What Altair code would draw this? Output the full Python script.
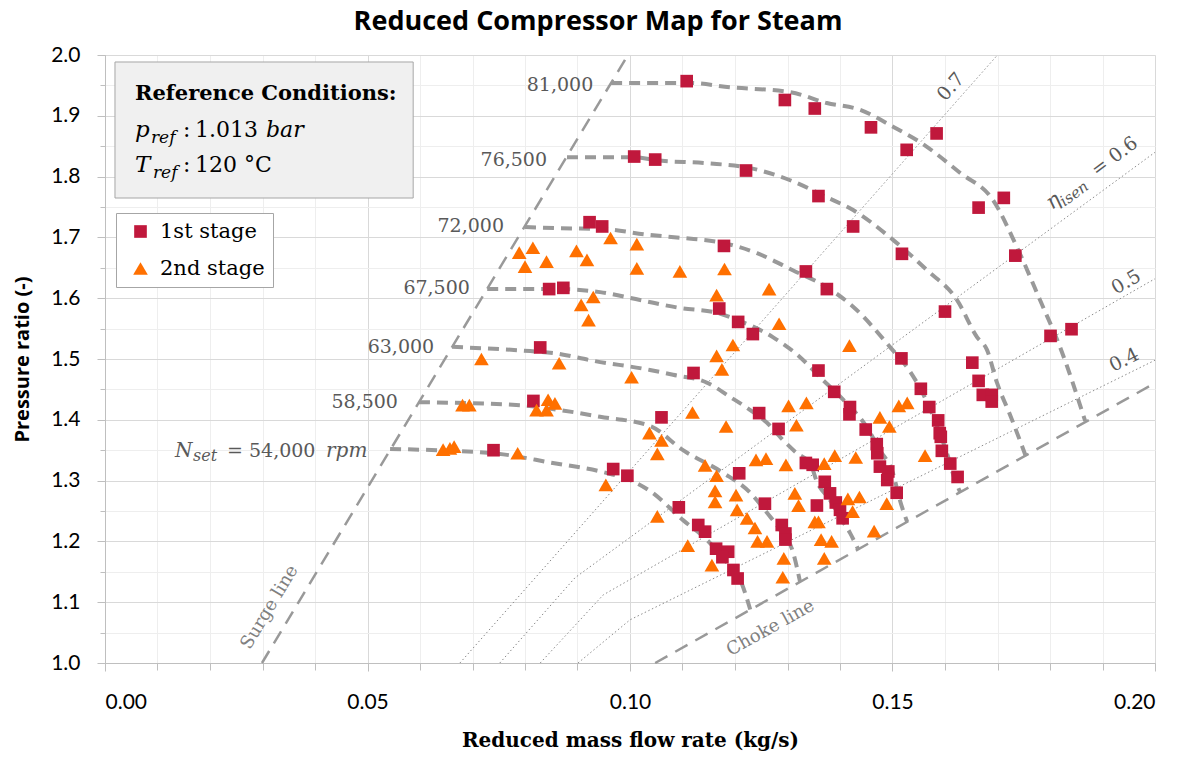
import altair as alt
import pandas as pd

# ---------------- data ----------------
# 1st stage (squares)
s1_x = [0.1108, 0.1295, 0.1352, 0.1459, 0.1527, 0.1584,
        0.1008, 0.1048, 0.1221, 0.1359, 0.1425, 0.1518, 0.1664, 0.1712, 0.1734, 0.1600, 0.1801, 0.1841,
        0.0923, 0.0947, 0.1179, 0.1335, 0.1375, 0.1517, 0.1652, 0.1664, 0.1672, 0.1689, 0.1689,
        0.1554, 0.1570, 0.1587, 0.1590, 0.1592, 0.1594, 0.1610, 0.1624,
        0.0846, 0.0873, 0.1170, 0.1206, 0.1234, 0.1359, 0.1389, 0.1419, 0.1418, 0.1449, 0.1470, 0.1471,
        0.1476, 0.1492, 0.1490, 0.1508,
        0.0829, 0.1121, 0.1246, 0.1283, 0.1335, 0.1348, 0.1371, 0.1381, 0.1392, 0.1400, 0.1405, 0.1356,
        0.0816, 0.1060, 0.1208, 0.1257, 0.1289, 0.1296, 0.1296,
        0.0740, 0.0968, 0.0995, 0.1093, 0.1130, 0.1143, 0.1164, 0.1187, 0.1176, 0.1197, 0.1205]
s1_y = [1.957, 1.926, 1.912, 1.881, 1.844, 1.871,
        1.833, 1.828, 1.810, 1.768, 1.718, 1.673, 1.749, 1.765, 1.670, 1.578, 1.538, 1.549,
        1.725, 1.718, 1.686, 1.644, 1.615, 1.501, 1.494, 1.464, 1.441, 1.441, 1.430,
        1.451, 1.421, 1.399, 1.378, 1.372, 1.349, 1.328, 1.306,
        1.615, 1.617, 1.583, 1.561, 1.541, 1.481, 1.446, 1.421, 1.409, 1.384, 1.360, 1.345,
        1.323, 1.315, 1.301, 1.280,
        1.519, 1.477, 1.411, 1.385, 1.329, 1.326, 1.298, 1.279, 1.264, 1.252, 1.238, 1.259,
        1.431, 1.404, 1.312, 1.262, 1.227, 1.213, 1.203,
        1.350, 1.319, 1.308, 1.256, 1.227, 1.216, 1.188, 1.183, 1.174, 1.153, 1.139]

# 2nd stage (triangles)
s2_x = [0.0789, 0.0815, 0.0800, 0.0841, 0.0898, 0.0918, 0.0963, 0.1013, 0.1013, 0.0907, 0.0930, 0.0921,
        0.1095, 0.1180, 0.1165, 0.1265,
        0.1284, 0.1196, 0.1165, 0.1175, 0.1119, 0.1183, 0.1302, 0.1336, 0.1317,
        0.1037, 0.1060, 0.1052, 0.1240, 0.1259, 0.1297, 0.1143, 0.1165, 0.1162, 0.1162, 0.1202, 0.1204,
        0.1314, 0.1321, 0.1223, 0.1238, 0.1243, 0.1261, 0.1052, 0.1110, 0.1156, 0.1293, 0.1291,
        0.1418, 0.1512, 0.1528, 0.1476, 0.1494, 0.1390, 0.1430, 0.1370, 0.1562, 0.1415, 0.1437, 0.1424,
        0.1489, 0.1352, 0.1359, 0.1465, 0.1364, 0.1384, 0.1370,
        0.0717, 0.0865, 0.1003, 0.0681, 0.0694, 0.0822, 0.0844, 0.0857, 0.0841, 0.0644, 0.0657, 0.0665,
        0.0786, 0.0954]
s2_y = [1.675, 1.683, 1.652, 1.660, 1.678, 1.663, 1.699, 1.689, 1.649, 1.589, 1.602, 1.564,
        1.644, 1.648, 1.605, 1.615,
        1.558, 1.523, 1.505, 1.483, 1.412, 1.389, 1.423, 1.428, 1.391,
        1.378, 1.366, 1.344, 1.334, 1.336, 1.326, 1.325, 1.308, 1.283, 1.265, 1.276, 1.252,
        1.279, 1.259, 1.238, 1.222, 1.200, 1.200, 1.241, 1.193, 1.161, 1.172, 1.141,
        1.522, 1.423, 1.428, 1.404, 1.389, 1.341, 1.338, 1.328, 1.341, 1.270, 1.273, 1.249,
        1.262, 1.232, 1.232, 1.217, 1.203, 1.200, 1.172,
        1.500, 1.493, 1.470, 1.424, 1.424, 1.416, 1.433, 1.427, 1.416, 1.351, 1.353, 1.356,
        1.345, 1.293]

# constant-speed lines
n54_x = [0.0543, 0.0739, 0.0853, 0.0949, 0.1000, 0.1038, 0.1101, 0.1147, 0.1181, 0.1210, 0.1229]
n54_y = [1.352, 1.345, 1.329, 1.314, 1.301, 1.283, 1.235, 1.202, 1.169, 1.137, 1.088]
n585_x = [0.0598, 0.0790, 0.0867, 0.0943, 0.1038, 0.1101, 0.1177, 0.1229, 0.1261, 0.1286, 0.1311, 0.1324]
n585_y = [1.429, 1.424, 1.416, 1.405, 1.390, 1.350, 1.313, 1.280, 1.247, 1.219, 1.181, 1.133]
n63_x = [0.0661, 0.0810, 0.0853, 0.0930, 0.1038, 0.1082, 0.1147, 0.1190, 0.1229, 0.1261, 0.1291,
         0.1318, 0.1343, 0.1356, 0.1381, 0.1400, 0.1419, 0.1434]
n63_y = [1.520, 1.513, 1.510, 1.497, 1.482, 1.474, 1.461, 1.438, 1.416, 1.395, 1.367,
         1.345, 1.329, 1.298, 1.268, 1.240, 1.214, 1.188]
n675_x = [0.0728, 0.0790, 0.0867, 0.0943, 0.1019, 0.1095, 0.1166, 0.1196, 0.1272, 0.1324, 0.1362,
          0.1406, 0.1451, 0.1476, 0.1501, 0.1514, 0.1528]
n675_y = [1.615, 1.615, 1.615, 1.610, 1.597, 1.584, 1.576, 1.567, 1.536, 1.503, 1.470,
          1.433, 1.388, 1.350, 1.312, 1.268, 1.232]
n72_x = [0.0800, 0.0867, 0.0943, 0.1038, 0.1101, 0.1177, 0.1242, 0.1310, 0.1375, 0.1425, 0.1495,
         0.1533, 0.1562, 0.1590, 0.1606, 0.1619, 0.1629]
n72_y = [1.717, 1.715, 1.714, 1.704, 1.699, 1.691, 1.674, 1.646, 1.618, 1.586, 1.520,
         1.480, 1.436, 1.378, 1.339, 1.301, 1.281]
n765_x = [0.0880, 0.1008, 0.1048, 0.1147, 0.1229, 0.1305, 0.1375, 0.1425, 0.1501, 0.1566, 0.1623,
          0.1661, 0.1680, 0.1699, 0.1724, 0.1754]
n765_y = [1.832, 1.832, 1.827, 1.822, 1.814, 1.794, 1.766, 1.745, 1.696, 1.646, 1.597,
          1.536, 1.515, 1.461, 1.408, 1.340]
n81_x = [0.0964, 0.1114, 0.1190, 0.1305, 0.1375, 0.1438, 0.1501, 0.1552, 0.1629, 0.1691, 0.1737,
         0.1781, 0.1819, 0.1867]
n81_y = [1.954, 1.954, 1.947, 1.939, 1.921, 1.910, 1.882, 1.857, 1.806, 1.762, 1.684,
         1.597, 1.520, 1.398]

# surge / choke lines
surge_x = [0.0299, 0.0996]
surge_y = [1.000, 2.000]
choke_x = [0.1048, 0.2000]
choke_y = [1.000, 1.4605]

# isentropic efficiency lines
e07_x = [0.0676, 0.1700]
e07_y = [1.000, 2.000]
e06_x = [0.0752, 0.0895, 0.2000]
e06_y = [1.000, 1.140, 1.840]
e05_x = [0.0829, 0.0949, 0.2000]
e05_y = [1.000, 1.112, 1.632]
e04_x = [0.0901, 0.1000, 0.2000]
e04_y = [1.000, 1.071, 1.498]

# speed labels
spd_labels = ["81,000", "76,500", "72,000", "67,500", "63,000", "58,500"]
spd_lab_x = [0.0930, 0.0842, 0.0760, 0.0695, 0.0627, 0.0558]
spd_lab_y = [1.951, 1.827, 1.718, 1.616, 1.520, 1.430]

# axis ticks
x_major = [0.00, 0.05, 0.10, 0.15, 0.20]
x_minor = [0.00, 0.01, 0.02, 0.03, 0.04, 0.05, 0.06, 0.07, 0.08, 0.09, 0.10,
           0.11, 0.12, 0.13, 0.14, 0.15, 0.16, 0.17, 0.18, 0.19, 0.20]
y_major = [1.0, 1.1, 1.2, 1.3, 1.4, 1.5, 1.6, 1.7, 1.8, 1.9, 2.0]
y_minor = [1.0, 1.05, 1.1, 1.15, 1.2, 1.25, 1.3, 1.35, 1.4, 1.45, 1.5, 1.55, 1.6, 1.65,
           1.7, 1.75, 1.8, 1.85, 1.9, 1.95, 2.0]

# ---------------- styling ----------------
RED = "#C0183C"
ORANGE = "#FF7000"
GRAYL = "#999999"
SERIF = "DejaVu Serif"
SANS = "Lato"
STAGES = ["1st stage", "2nd stage"]

xs = alt.Scale(domain=[0, 0.2], nice=False, zero=False)
ys = alt.Scale(domain=[1.0, 2.0], nice=False, zero=False)


def X(field="x", axis=None):
    return alt.X(f"{field}:Q", scale=xs, axis=axis)


def Y(field="y", axis=None):
    return alt.Y(f"{field}:Q", scale=ys, axis=axis)


def pts(xv, yv, **extra):
    d = {"x": xv, "y": yv}
    d.update(extra)
    return pd.DataFrame(d)


# axis layers
axis_df = pts([0.0, 0.2], [1.0, 2.0])
minor_axes = alt.Chart(axis_df).mark_point(opacity=0).encode(
    x=X(axis=alt.Axis(values=x_minor, labels=False, domain=False, grid=True, gridColor="#eeeeee",
                      ticks=True, tickSize=7, tickColor="#bfbfbf", title=None, orient="bottom")),
    y=Y(axis=alt.Axis(values=y_minor, labels=False, domain=False, grid=True, gridColor="#eeeeee",
                      ticks=True, tickSize=5, tickColor="#bfbfbf", title=None, orient="left")),
)
major_axes = alt.Chart(axis_df).mark_point(opacity=0).encode(
    x=X(axis=alt.Axis(values=x_major, format=".2f", grid=True, gridColor="#d9d9d9",
                      domain=True, domainColor="#bfbfbf", ticks=True, tickSize=8, tickColor="#bfbfbf",
                      labelFont=SANS, labelFontSize=21, labelColor="#000000", labelPadding=20,
                      title="Reduced mass flow rate (kg/s)", titleFont=SERIF, titleFontSize=20,
                      titleFontWeight="bold", titleColor="#000000", titleX=525, titleY=77,
                      titleBaseline="middle", titleAlign="center", orient="bottom")),
    y=Y(axis=alt.Axis(values=y_major, format=".1f", grid=True, gridColor="#d9d9d9",
                      domain=True, domainColor="#bfbfbf", ticks=True, tickSize=8, tickColor="#bfbfbf",
                      labelFont=SANS, labelFontSize=21, labelColor="#000000", labelPadding=17,
                      title="Pressure ratio (-)", titleFont="Open Sans", titleFontSize=20,
                      titleFontWeight="bold", titleColor="#000000", titleX=-83, titleY=304,
                      titleAngle=270, titleBaseline="middle", titleAlign="center", orient="left")),
)

# efficiency lines
eff_df = pd.concat([
    pts(e07_x, e07_y, g="0.7", o=list(range(len(e07_x)))),
    pts(e06_x, e06_y, g="0.6", o=list(range(len(e06_x)))),
    pts(e05_x, e05_y, g="0.5", o=list(range(len(e05_x)))),
    pts(e04_x, e04_y, g="0.4", o=list(range(len(e04_x)))),
])
eff_lines = alt.Chart(eff_df).mark_line(strokeDash=[1.5, 2.5], strokeWidth=1, color="#8c8c8c").encode(
    x=X(), y=Y(), detail="g:N", order="o:Q")

# surge & choke
sc_df = pd.concat([
    pts(surge_x, surge_y, g="surge", o=[0, 1]),
    pts(choke_x, choke_y, g="choke", o=[0, 1]),
])
sc_lines = alt.Chart(sc_df).mark_line(strokeDash=[14, 9], strokeWidth=2.5, color=GRAYL).encode(
    x=X(), y=Y(), detail="g:N", order="o:Q")

# speed lines
spd_list = [("54000", n54_x, n54_y), ("58500", n585_x, n585_y), ("63000", n63_x, n63_y),
            ("67500", n675_x, n675_y), ("72000", n72_x, n72_y), ("76500", n765_x, n765_y),
            ("81000", n81_x, n81_y)]
spd_df = pd.concat([pts(a, b, g=n, o=list(range(len(a)))) for n, a, b in spd_list])
spd_lines = alt.Chart(spd_df).mark_line(strokeDash=[11, 7], strokeWidth=4, color=GRAYL,
                                        interpolate="monotone").encode(
    x=X(), y=Y(), detail="g:N", order="o:Q")

# scatter
sc_pts = pd.concat([pts(s1_x, s1_y, stage=STAGES[0]), pts(s2_x, s2_y, stage=STAGES[1])])
leg = alt.Legend(title=None, orient="none", legendX=11, legendY=158, direction="vertical",
                 fillColor="white", strokeColor="#a6a6a6", padding=8, labelFont=SERIF,
                 labelFontSize=21, labelColor="#000000", symbolSize=190, rowPadding=15,
                 labelOffset=9, symbolOffset=6, symbolStrokeWidth=0)
scatter = alt.Chart(sc_pts).mark_point(filled=True, opacity=1, strokeWidth=0).encode(
    x=X(), y=Y(),
    color=alt.Color("stage:N", scale=alt.Scale(domain=STAGES, range=[RED, ORANGE]), legend=leg),
    shape=alt.Shape("stage:N", scale=alt.Scale(domain=STAGES, range=["square", "triangle-up"]),
                    legend=leg),
    size=alt.Size("stage:N", scale=alt.Scale(domain=STAGES, range=[160, 215]), legend=None),
)

# speed labels
spd_text = alt.Chart(pd.DataFrame({"x": spd_lab_x, "y": spd_lab_y, "t": spd_labels})).mark_text(
    align="right", baseline="middle", font=SERIF, fontSize=19, color="#595959").encode(
    x=X(), y=Y(), text="t:N")


def label(xv, yv, t, **kw):
    base = dict(font=SERIF, color="#595959", align="left", baseline="alphabetic")
    base.update(kw)
    return alt.Chart(pd.DataFrame({"x": [xv], "y": [yv], "t": [t]})).mark_text(**base).encode(
        x=X(), y=Y(), text="t:N")


# N_set label
nset = [
    label(0.01333, 1.3384, "N", fontSize=20, fontStyle="italic"),
    label(0.01676, 1.3318, "set", fontSize=16, fontStyle="italic"),
    label(0.02324, 1.3384, "= 54,000", fontSize=19),
    label(0.04210, 1.3384, "rpm", fontSize=20, fontStyle="italic"),
]

# surge / choke text
surge_txt = label(0.03139, 1.0916, "Surge line", align="center", baseline="middle", angle=301,
                  fontSize=18, color="#808080")
choke_txt = label(0.12678, 1.0571, "Choke line", align="center", baseline="middle", angle=331,
                  fontSize=18, color="#808080")

# efficiency labels
e_txt = [
    label(0.16108, 1.9479, "0.7", align="center", baseline="middle", angle=311.5, fontSize=19),
    label(0.19448, 1.6266, "0.5", align="center", baseline="middle", angle=330, fontSize=19),
    label(0.19410, 1.4984, "0.4", align="center", baseline="middle", angle=333.5, fontSize=19),
    label(0.18038, 1.7451, "\u03b7", angle=323.5, fontSize=21, fontStyle="italic"),
    label(0.18038, 1.7451, "isen", angle=323.5, fontSize=15, fontStyle="italic", dx=12, dy=5),
    label(0.18038, 1.7451, "= 0.6", angle=323.5, fontSize=19, dx=56),
]

# reference conditions box
box = alt.Chart(pd.DataFrame({"x": [0.0019], "x2": [0.0587], "y": [1.9885], "y2": [1.7648]})).mark_rect(
    fill="#f0f0f0", stroke="#a6a6a6", strokeWidth=1).encode(
    x=X(), x2="x2:Q", y=Y(), y2="y2:Q")
box_txt = [
    label(0.00571, 1.9260, "Reference Conditions:", fontSize=21, fontWeight="bold", color="#000000"),
    label(0.00571, 1.8651, "p", fontSize=23, fontStyle="italic", color="#000000"),
    label(0.00876, 1.8553, "ref", fontSize=17, fontStyle="italic", color="#000000"),
    label(0.01486, 1.8651, ":", fontSize=22, color="#000000"),
    label(0.01714, 1.8651, "1.013", fontSize=22, color="#000000"),
    label(0.03067, 1.8651, "bar", fontSize=22, fontStyle="italic", color="#000000"),
    label(0.00571, 1.8076, "T", fontSize=23, fontStyle="italic", color="#000000"),
    label(0.00914, 1.7977, "ref", fontSize=17, fontStyle="italic", color="#000000"),
    label(0.01486, 1.8076, ":", fontSize=22, color="#000000"),
    label(0.01714, 1.8076, "120 \u00b0C", fontSize=22, color="#000000"),
]

layers = [minor_axes, major_axes, eff_lines, sc_lines, spd_lines, scatter, spd_text, surge_txt,
          choke_txt] + nset + e_txt + [box] + box_txt

chart = alt.layer(*layers).resolve_axis(x="independent", y="independent").properties(
    width=1050, height=608,
    padding={"left": 105, "top": 55, "right": 33, "bottom": 95},
    autosize=alt.AutoSizeParams(type="none"),
    title=alt.Title("Reduced Compressor Map for Steam", font="Open Sans", fontSize=27,
                    fontWeight="bold", color="#000000", anchor="middle", frame="group", dx=-32,
                    offset=8),
).configure_view(stroke=None).configure(background="white")

chart.save("out.html", embed_options={"renderer": "svg", "actions": False})
